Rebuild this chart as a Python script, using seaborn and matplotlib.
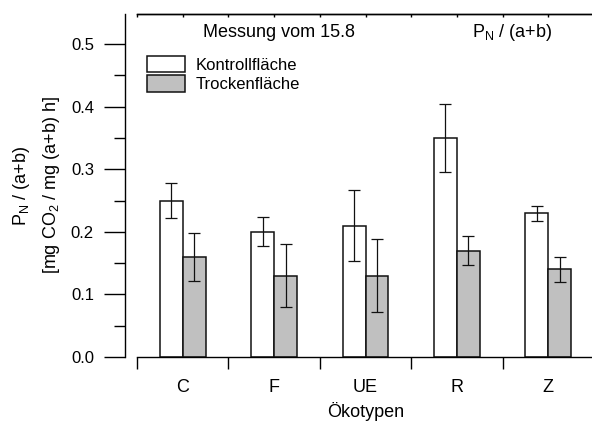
import numpy as np
import pandas as pd
import seaborn as sns
import matplotlib.pyplot as plt
from matplotlib.ticker import MultipleLocator, FixedLocator

# Werte
oekotypen = ["C", "F", "UE", "R", "Z"]
kontrolle = [0.25, 0.20, 0.21, 0.35, 0.23]
kontrolle_err = [0.028, 0.023, 0.057, 0.055, 0.012]
trocken = [0.16, 0.13, 0.13, 0.17, 0.14]
trocken_err = [0.038, 0.050, 0.058, 0.023, 0.020]
flaechen = ["Kontrollfläche", "Trockenfläche"]

df = pd.DataFrame({
    "Ökotyp": oekotypen * 2,
    "Fläche": [flaechen[0]] * 5 + [flaechen[1]] * 5,
    "wert": kontrolle + trocken,
})
errs = [kontrolle_err, trocken_err]

sns.set_style("ticks", {"axes.edgecolor": "black", "text.color": "black",
                        "axes.labelcolor": "black", "xtick.color": "black",
                        "ytick.color": "black"})
plt.rcParams["font.family"] = ["Liberation Sans", "DejaVu Sans"]
plt.rcParams["mathtext.default"] = "regular"

fig = plt.figure(figsize=(5.92, 4.25), dpi=100)
ax = fig.add_axes([137 / 592, 68 / 425, 457 / 592, 343 / 425])

sns.barplot(
    data=df, x="Ökotyp", y="wert", hue="Fläche",
    order=oekotypen, hue_order=flaechen,
    palette=["white", "#c0c0c0"], width=0.5,
    edgecolor="#111111", linewidth=1.1, errorbar=None, ax=ax
)

# Fehlerbalken
for cont, err in zip(ax.containers, errs):
    xs = [b.get_x() + b.get_width() / 2 for b in cont]
    ys = [b.get_height() for b in cont]
    ax.errorbar(xs, ys, yerr=err, fmt="none", ecolor="#111111",
                elinewidth=0.9, capsize=4.3, capthick=0.9)

ax.set_xlim(-0.5, 4.5)
ax.set_ylim(0, 0.548)

# Achsen
ax.spines["right"].set_visible(False)
ax.spines["left"].set_position(("outward", 9))
for s in ["left", "bottom", "top"]:
    ax.spines[s].set_linewidth(1.0)

ax.yaxis.set_major_locator(MultipleLocator(0.1))
ax.yaxis.set_minor_locator(MultipleLocator(0.05))
ax.tick_params(axis="y", which="major", length=15, width=1.0, pad=7, labelsize=12)
ax.tick_params(axis="y", which="minor", length=8, width=1.0)
ax.xaxis.set_minor_locator(FixedLocator(np.arange(-0.5, 5, 1)))
ax.tick_params(axis="x", which="major", length=0, pad=16, labelsize=13)
ax.tick_params(axis="x", which="minor", length=8.5, width=1.0)

top = ax.secondary_xaxis("top")
top.set_xticks(np.arange(-0.5, 4.6, 0.5))
top.tick_params(direction="in", length=2.5, width=1.0, labeltop=False)
top.spines["top"].set_linewidth(1.0)

ax.set_xlabel("Ökotypen", fontsize=13, labelpad=4)
ax.set_ylabel("P$_N$ / (a+b)\n[mg CO$_2$ / mg (a+b) h]", fontsize=13,
              linespacing=1.65, labelpad=6)

ax.text(0.31, 0.945, "Messung vom 15.8", transform=ax.transAxes,
        ha="center", va="center", fontsize=13)
ax.text(0.82, 0.945, "P$_N$ / (a+b)", transform=ax.transAxes,
        ha="center", va="center", fontsize=13)

sns.move_legend(
    ax, "upper left", bbox_to_anchor=(0.022, 0.878), frameon=False,
    title=None, fontsize=12, handlelength=2.3, handleheight=1.15,
    handletextpad=0.6, labelspacing=0.15, borderpad=0, borderaxespad=0
)

fig.savefig("out.png", dpi=100)
